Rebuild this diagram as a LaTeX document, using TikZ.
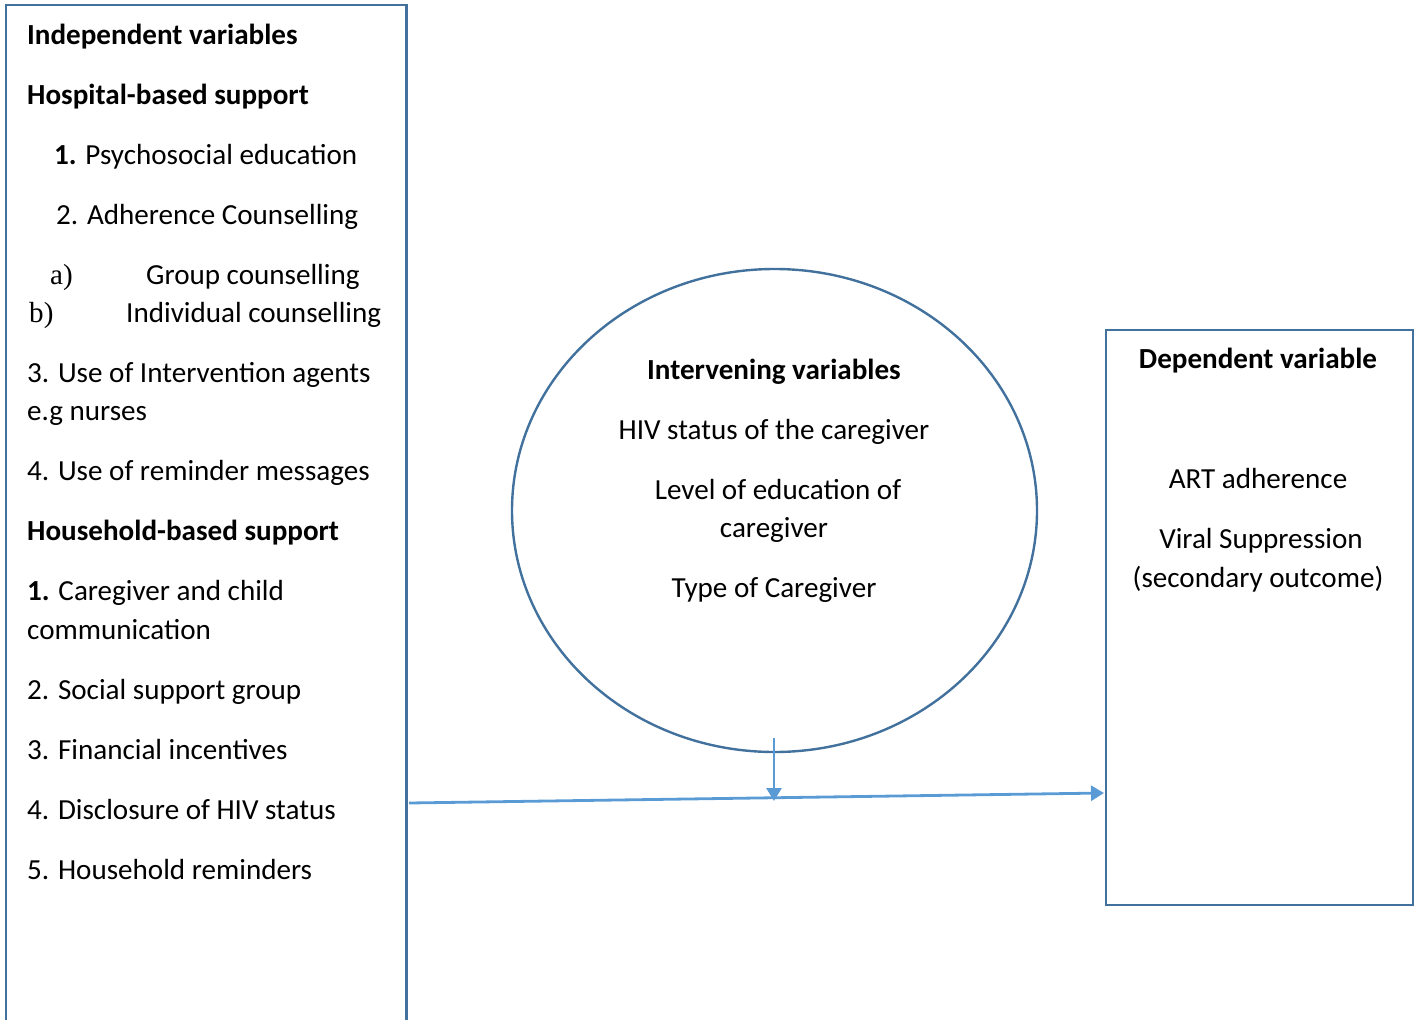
\documentclass[tikz,border=0pt]{standalone}
\usepackage{fontspec}
\setmainfont{Carlito}
\newfontfamily\serifnum{Liberation Serif}
\usetikzlibrary{arrows.meta,shapes.geometric}
\definecolor{boxblue}{HTML}{41719C}
\definecolor{arrblue}{HTML}{5B9BD5}
\tikzset{
  boxline/.style={draw=boxblue,line width=2.4pt},
  txt/.style={inner sep=0pt,anchor=base west,font=\fontsize{29.1}{38}\selectfont},
  ctxt/.style={inner sep=0pt,anchor=base,font=\fontsize{29.1}{38}\selectfont},
  arr/.style={draw=arrblue,line width=2.8pt,-{Triangle[length=13pt,width=15pt]}},
}
\begin{document}
\begin{tikzpicture}[x=1pt,y=-1pt]
\useasboundingbox (0,0) rectangle (1414,1020);
% left box (open at bottom)
\node[inner sep=0pt,minimum width=400pt,minimum height=1015pt,anchor=north west] (indep) at (6,5) {};
\draw[boxline] (indep.south west) -- (indep.north west) -- (indep.north east) -- (indep.south east);
\node[txt,font=\fontsize{29.1}{38}\selectfont\bfseries] (t1) at (27,44) {Independent variables};
\node[txt,font=\fontsize{29.1}{38}\selectfont\bfseries] (t2) at (27,104) {Hospital-based support};
\node[txt] (t3) at (54,164) {\textbf{1.} Psychosocial education};
\node[txt] (t4) at (56,224) {2. Adherence Counselling};
\node[txt] (t5a) at (50,284) {\serifnum a)};
\node[txt] (t5) at (146,284) {Group counselling};
\node[txt] (t6a) at (29,322) {\serifnum b)};
\node[txt] (t6) at (126,322) {Individual counselling};
\node[txt] (t7) at (27,382) {3. Use of Intervention agents};
\node[txt] (t8) at (27,420) {e.g nurses};
\node[txt] (t9) at (27,480) {4. Use of reminder messages};
\node[txt,font=\fontsize{29.1}{38}\selectfont\bfseries] (t10) at (27,540) {Household-based support};
\node[txt] (t11) at (27,600) {\textbf{1.} Caregiver and child};
\node[txt] (t12) at (27,639) {communication};
\node[txt] (t13) at (27,699) {2. Social support group};
\node[txt] (t14) at (27,759) {3. Financial incentives};
\node[txt] (t15) at (27,819) {4. Disclosure of HIV status};
\node[txt] (t16) at (27,879) {5. Household reminders};
% ellipse
\node[ellipse,boxline,minimum width=525pt,minimum height=483pt,inner sep=0pt] (interv) at (774.5,510.5) {};
\node[ctxt,font=\fontsize{29.1}{38}\selectfont\bfseries] (e1) at (774,379) {Intervening variables};
\node[ctxt] (e2) at (774,439) {HIV status of the caregiver};
\node[ctxt] (e3) at (778,499) {Level of education of};
\node[ctxt] (e4) at (774,537) {caregiver};
\node[ctxt] (e5) at (774,597) {Type of Caregiver};
% right box
\node[boxline,inner sep=0pt,minimum width=307pt,minimum height=575pt,anchor=north west] (dep) at (1105,329) {};
\node[ctxt,font=\fontsize{29.1}{38}\selectfont\bfseries] (d1) at (1258,368) {Dependent variable};
\node[ctxt] (d2) at (1258,488) {ART adherence};
\node[ctxt] (d3) at (1261,548) {Viral Suppression};
\node[ctxt] (d4) at (1258,587) {(secondary outcome)};
% connectors
\coordinate (hstart) at (409,803);
\coordinate (hend) at (1104,793);
\coordinate (vstart) at (774,738);
\coordinate (vend) at (774,801);
\draw[arr] (hstart) -- (hend);
\draw[arr] (vstart) -- (vend);
\end{tikzpicture}
\end{document}
